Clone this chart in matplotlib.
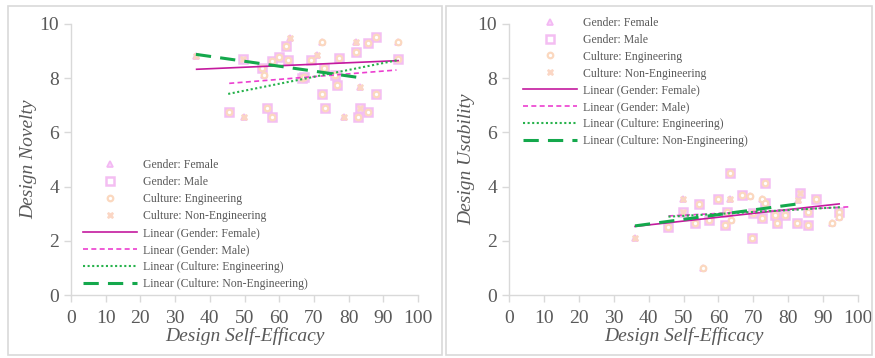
import numpy as np
import matplotlib
matplotlib.use("Agg")
import matplotlib.pyplot as plt
from matplotlib.lines import Line2D
from matplotlib.patches import Rectangle

plt.rcParams['font.family'] = ['Liberation Serif', 'DejaVu Serif']

# ---- design novelty vs self-efficacy ----
nov_eff = [36.0, 45.6, 49.9, 49.7, 55.0, 55.6, 56.6, 57.8, 57.8, 60.0, 62.4, 62.0,
           63.1, 66.5, 67.1, 69.2, 70.8, 72.2, 72.2, 72.9, 73.2, 76.2, 76.6, 77.3,
           78.7, 82.0, 82.1, 82.8, 83.3, 83.3, 85.5, 85.7, 87.9, 87.8, 94.3, 94.3]
nov_score = [8.82, 6.77, 6.58, 8.70, 8.37, 8.12, 6.89, 6.58, 8.63, 8.80, 8.67, 9.20,
             9.47, 8.00, 8.05, 8.67, 8.86, 9.35, 7.40, 8.39, 6.89, 8.12, 7.75, 8.76,
             6.58, 9.32, 8.96, 6.58, 7.69, 6.89, 9.31, 6.77, 9.52, 7.40, 9.32, 8.71]
nov_gender = list("FMFMMFMMMMMMFMMMFFMMMMMMFFMMFMMMMMFM")
nov_culture = list("NENNEEEEEEEENEEENEEEEEEENNEENNEEEEEE")

# ---- design usability vs self-efficacy ----
use_eff = [36.1, 45.7, 49.8, 49.8, 53.3, 54.4, 55.5, 57.4, 60.0, 61.9, 62.4, 63.3,
           63.3, 63.6, 66.7, 69.0, 69.5, 70.0, 72.4, 72.4, 73.4, 73.4, 76.2, 76.7,
           79.1, 82.4, 82.9, 83.4, 85.8, 85.8, 88.0, 92.5, 94.6, 94.6]
use_score = [2.09, 2.52, 3.53, 3.08, 2.65, 3.36, 1.00, 2.75, 3.53, 2.58, 3.08, 3.53,
             4.51, 2.77, 3.69, 3.65, 2.09, 3.01, 3.53, 2.83, 4.12, 3.38, 2.95, 2.67,
             2.95, 2.67, 3.50, 3.75, 2.58, 3.08, 3.53, 2.65, 3.08, 2.89]
use_gender = list("FMFMMMFMMMMFMFMFMMFMMMMMMMFMMMMFMF")
use_culture = list("NENNEEEEEEENEEEEEEEEEEEEEENNEEEEEE")

# linear trendlines: (x from, x to, slope, intercept) per series
nov_fits = [(36.2, 94.3, 0.0055, 8.13),
            (45.6, 93.8, 0.0102, 7.345),
            (45.3, 94.3, 0.0255, 6.265),
            (36.0, 82.8, -0.0182, 9.535)]
use_fits = [(36.1, 94.6, 0.0142, 2.018),
            (45.7, 97.7, 0.0065, 2.62),
            (45.7, 94.8, 0.0071, 2.566),
            (36.1, 82.9, 0.0174, 1.922)]

series_names = ['Gender: Female', 'Gender: Male', 'Culture: Engineering', 'Culture: Non-Engineering']
grey = '#595959'
axis_grey = '#D9D9D9'

marker_style = {
    'F': dict(marker='^', ms=5, mfc='#F9D3F9', mec='#F3B8F3', mew=1.2),
    'M': dict(marker='s', ms=5.5, mfc='none', mec='#F4BEF2', mew=1.8),
    'E': dict(marker='o', ms=4, mfc='white', mec='#FBD8BF', mew=1.6),
    'N': dict(marker='X', ms=5, mfc='#FBD6C4', mec='#FBD6C4', mew=0.5),
}
line_style = [
    dict(color='#C41A9E', lw=1.2, ls='-'),
    dict(color='#EC3FD0', lw=1.2, ls=(0, (3, 2))),
    dict(color='#27B24C', lw=1.5, ls=(0, (1, 1.2))),
    dict(color='#14A84C', lw=2.2, ls=(0, (5, 3))),
]


def draw_panel(ax, eff, score, gender, culture, fits, ylabel):
    eff = np.array(eff)
    score = np.array(score)
    gender = np.array(gender)
    culture = np.array(culture)
    for key in ['F', 'M']:
        sel = gender == key
        ax.plot(eff[sel], score[sel], ls='none', zorder=2, **marker_style[key])
    for key in ['E', 'N']:
        sel = culture == key
        ax.plot(eff[sel], score[sel], ls='none', zorder=3, **marker_style[key])
    for (x0, x1, m, b), st in zip(fits, line_style):
        xs = np.array([x0, x1])
        ax.plot(xs, m * xs + b, zorder=4, **st)

    ax.set_xlim(0, 100)
    ax.set_ylim(0, 10)
    ax.set_xticks(range(0, 101, 10))
    ax.set_yticks(range(0, 11, 2))
    for s in ['top', 'right']:
        ax.spines[s].set_visible(False)
    for s in ['left', 'bottom']:
        ax.spines[s].set_color(axis_grey)
        ax.spines[s].set_linewidth(1.0)
    ax.tick_params(colors=axis_grey, labelcolor=grey, labelsize=14, length=5, width=1.0)
    ax.tick_params(axis='x', pad=6)
    ax.set_xlabel('Design Self-Efficacy', style='italic', color=grey, fontsize=14, labelpad=0)
    ax.set_ylabel(ylabel, style='italic', color=grey, fontsize=14, labelpad=2)


def legend_handles():
    hs = [Line2D([], [], ls='none', **marker_style[k]) for k in 'FMEN']
    hs += [Line2D([], [], **st) for st in line_style]
    labels = series_names + ['Linear (%s)' % n for n in series_names]
    return hs, labels


fig = plt.figure(figsize=(8.75, 3.58), dpi=100)

# chart area borders
fig.patches.append(Rectangle((8 / 875, 3 / 358), 434 / 875, 349 / 358, transform=fig.transFigure,
                             fill=False, edgecolor=axis_grey, lw=1.2))
fig.patches.append(Rectangle((446 / 875, 3 / 358), 426 / 875, 349 / 358, transform=fig.transFigure,
                             fill=False, edgecolor=axis_grey, lw=1.2))

ax1 = fig.add_axes([71 / 875, 63 / 358, 347 / 875, 271 / 358])
ax2 = fig.add_axes([509 / 875, 63 / 358, 349 / 875, 271 / 358])

draw_panel(ax1, nov_eff, nov_score, nov_gender, nov_culture, nov_fits, 'Design Novelty')
draw_panel(ax2, use_eff, use_score, use_gender, use_culture, use_fits, 'Design Usability')

hs, labels = legend_handles()
for ax, anchor in [(ax1, (0.035, 0.50)), (ax2, (0.04, 1.027))]:
    ax.legend(hs, labels, loc='upper left', bbox_to_anchor=anchor, frameon=False,
              fontsize=8.5, labelcolor=grey, handlelength=4.6, handletextpad=0.5,
              labelspacing=0.42, borderpad=0, borderaxespad=0)

fig.savefig('out.png', dpi=100)
